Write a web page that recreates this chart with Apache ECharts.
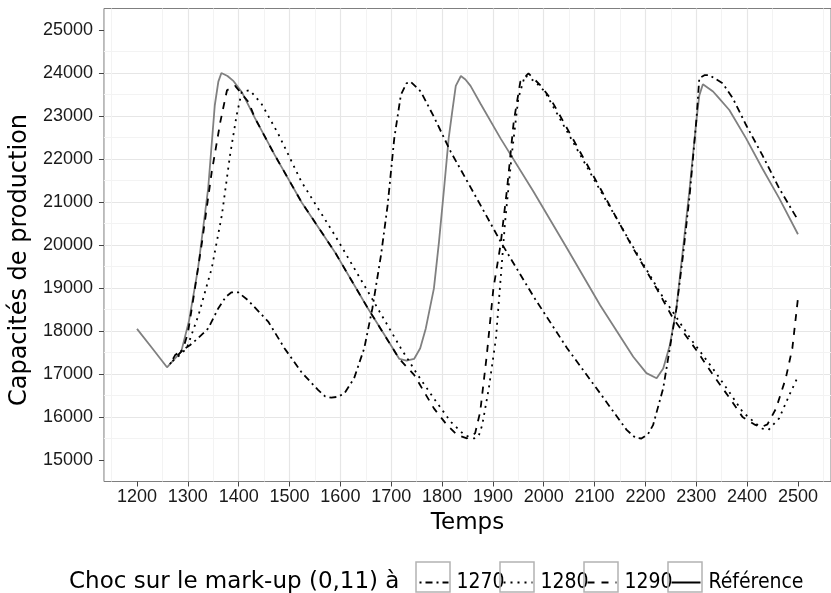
<!DOCTYPE html>
<html>
<head>
<meta charset="utf-8">
<script src="https://cdn.jsdelivr.net/npm/echarts@6/dist/echarts.min.js"></script>
<style>
html,body{margin:0;padding:0;background:#fff;}
#chart{width:831px;height:593px;}
</style>
</head>
<body>
<div id="chart"></div>
<script>
// ---- data ----
const xTicks = [1200,1300,1400,1500,1600,1700,1800,1900,2000,2100,2200,2300,2400,2500];
const yTicks = [15000,16000,17000,18000,19000,20000,21000,22000,23000,24000,25000];

const seriesNames = ['1270','1280','1290','Référence'];

const refTimes  = [1200,1230,1259,1270,1287,1302,1320,1340,1353,1360,1366,1378,1390,1406,1432,1471,1524,1589,1654,1690,1716,1730,1745,1757,1768,1784,1794,1804,1813,1820,1827,1837,1846,1856,1876,1915,1980,2046,2111,2176,2202,2222,2235,2248,2261,2274,2287,2300,2306,2313,2333,2342,2365,2398,2430,2463,2500];
const refValues = [18050,17600,17156,17300,17520,18220,19450,21320,23250,23800,24000,23930,23810,23560,22950,22090,20990,19840,18530,17850,17350,17310,17350,17600,18060,18990,20080,21320,22480,23100,23700,23930,23850,23700,23280,22480,21240,19920,18600,17400,17020,16900,17130,17670,18530,19920,21320,22870,23480,23740,23570,23450,23140,22480,21780,21090,20250];

const s1270Times  = [1265,1275,1290,1304,1320,1340,1360,1375,1386,1399,1418,1458,1490,1523,1556,1570,1582,1595,1608,1627,1647,1663,1680,1693,1706,1719,1730,1738,1758,1784,1817,1850,1883,1915,1980,2046,2111,2163,2180,2192,2205,2215,2235,2248,2261,2274,2287,2300,2306,2316,2326,2352,2372,2398,2430,2463,2500];
const s1270Values = [17230,17440,17560,17670,17830,18060,18530,18800,18900,18900,18720,18220,17600,17050,16630,16480,16450,16470,16550,16900,17600,18530,19770,20930,22480,23490,23760,23800,23570,22980,22170,21470,20770,20080,18800,17600,16550,15700,15520,15500,15600,15810,16670,17600,18530,19770,21160,22870,23880,23950,23950,23760,23410,22790,22090,21320,20580];

const s1280Times  = [1270,1285,1298,1321,1347,1367,1383,1396,1406,1422,1445,1478,1523,1589,1654,1719,1752,1784,1817,1844,1863,1872,1879,1892,1906,1924,1937,1950,1963,1983,2002,2035,2100,2166,2231,2290,2333,2365,2391,2414,2430,2442,2463,2483,2500];
const s1280Values = [17300,17450,17600,18370,19460,20700,22090,23020,23560,23600,23280,22580,21480,20230,18920,17600,16980,16430,15890,15580,15500,15560,15810,16670,17830,20540,22090,23410,23940,23800,23570,22870,21500,20150,18850,17800,17120,16580,16120,15880,15730,15700,15970,16510,16940];

const s1290Times  = [1280,1290,1300,1312,1328,1347,1364,1377,1393,1419,1432,1471,1524,1589,1654,1716,1745,1784,1810,1830,1849,1865,1875,1888,1901,1915,1928,1941,1954,1970,1993,2013,2046,2111,2176,2222,2254,2300,2333,2365,2391,2414,2427,2440,2457,2476,2489,2500];
const s1290Values = [17430,17560,17950,18840,20080,21700,22870,23600,23700,23330,22950,22090,20990,19840,18530,17350,16980,16200,15810,15580,15505,15620,16120,17440,18990,20000,21320,22870,23800,23990,23720,23410,22710,21320,19920,18990,18300,17560,16980,16450,16000,15830,15760,15830,16200,16900,17600,18760];

const xMin = 1135, xMax = 2565, yMin = 14500, yMax = 25500;

function zip(t, v) { return t.map((x, i) => [x, v[i]]); }

const tickFont = '"Liberation Sans", Arial, sans-serif';
const titleFont = '"DejaVu Sans", sans-serif';
const legendFont = '"Liberation Sans Narrow", "DejaVu Sans Condensed", sans-serif';

const chart = echarts.init(document.getElementById('chart'), null, {renderer: 'canvas'});

const boxLefts = [416, 500, 584, 668];
const boxTop = 562;
const legendTop = 572;

const legends = seriesNames.map((n, i) => ({
  data: [n],
  left: boxLefts[i] + 2.5,
  top: legendTop,
  padding: 0,
  itemWidth: 29,
  itemHeight: 22,
  selectedMode: false,
  itemStyle: {opacity: 0},
  lineStyle: n === 'Référence' ? {color: '#000', width: 2} : {width: 2},
  textStyle: {fontFamily: legendFont, fontSize: 21, color: '#000', padding: [0, 0, 0, 3]}
}));

const boxStyle = {fill: 'none', stroke: '#b3b3b3', lineWidth: 1.5};
const boxes = boxLefts.map(l => ({
  type: 'rect', x: l, y: boxTop, z: 100,
  shape: {x: 0, y: 0, width: 34, height: 30},
  style: boxStyle
}));

const option = {
  animation: false,
  backgroundColor: '#fff',
  title: {
    text: 'Choc sur le mark-up (0,11) à',
    left: 69, top: legendTop - 1, padding: 0,
    textStyle: {fontFamily: titleFont, fontSize: 23, fontWeight: 'normal', color: '#000'}
  },
  legend: legends,
  graphic: {elements: boxes},
  grid: {
    left: 101.8, top: 8.5, width: 730.4, height: 473,
    show: true, borderColor: '#7f7f7f', borderWidth: 1, backgroundColor: '#fff'
  },
  xAxis: {
    type: 'value', min: xMin, max: xMax, minInterval: 100, maxInterval: 100,
    name: 'Temps', nameLocation: 'middle', nameGap: 30,
    nameTextStyle: {fontFamily: titleFont, fontSize: 23, color: '#000'},
    axisLine: {show: false},
    axisTick: {show: true, length: 5, lineStyle: {color: '#444'}, customValues: xTicks},
    axisLabel: {customValues: xTicks, formatter: v => String(v), fontFamily: tickFont, fontSize: 18, color: '#1a1a1a', margin: 7},
    splitLine: {show: true, showMinLine: false, showMaxLine: false, lineStyle: {color: '#e6e6e6', width: 1.2}},
    minorTick: {show: false, splitNumber: 2},
    minorSplitLine: {show: true, lineStyle: {color: '#f3f3f3', width: 1}}
  },
  yAxis: {
    type: 'value', min: yMin, max: yMax, minInterval: 1000, maxInterval: 1000,
    name: 'Capacités de production', nameLocation: 'middle', nameGap: 69,
    nameTextStyle: {fontFamily: titleFont, fontSize: 24, color: '#000', padding: [0, 30, 0, 0]},
    axisLine: {show: false},
    axisTick: {show: true, length: 5, lineStyle: {color: '#444'}, customValues: yTicks},
    axisLabel: {customValues: yTicks, formatter: v => String(v), fontFamily: tickFont, fontSize: 18, color: '#1a1a1a', margin: 11},
    splitLine: {show: true, showMinLine: false, showMaxLine: false, lineStyle: {color: '#e6e6e6', width: 1.2}},
    minorTick: {show: false, splitNumber: 2},
    minorSplitLine: {show: true, lineStyle: {color: '#f3f3f3', width: 1}}
  },
  series: [
    {name: 'Référence', type: 'line', data: zip(refTimes, refValues), showSymbol: false, symbol: 'none',
     lineStyle: {color: '#808080', width: 1.8, type: 'solid'}, itemStyle: {color: '#808080'}},
    {name: '1270', type: 'line', data: zip(s1270Times, s1270Values), showSymbol: false, symbol: 'none',
     lineStyle: {color: '#000', width: 1.8, type: [2, 4, 7, 4]}, itemStyle: {color: '#000'}},
    {name: '1280', type: 'line', data: zip(s1280Times, s1280Values), showSymbol: false, symbol: 'none',
     lineStyle: {color: '#000', width: 1.8, type: [2, 5]}, itemStyle: {color: '#000'}},
    {name: '1290', type: 'line', data: zip(s1290Times, s1290Values), showSymbol: false, symbol: 'none',
     lineStyle: {color: '#000', width: 1.8, type: [7, 7]}, itemStyle: {color: '#000'}}
  ]
};
let ok = true;
try { chart.setOption(option); } catch (e) { ok = false; }

// fallback: if the option failed part-way, draw the key frames directly
if (!ok) {
  const zr = chart.getZr();
  boxLefts.forEach(l => {
    zr.add(new echarts.graphic.Rect({
      shape: {x: l, y: boxTop, width: 34, height: 30},
      style: {fill: null, stroke: '#b3b3b3', lineWidth: 1.5},
      z: 100
    }));
  });
}
</script>
</body>
</html>
